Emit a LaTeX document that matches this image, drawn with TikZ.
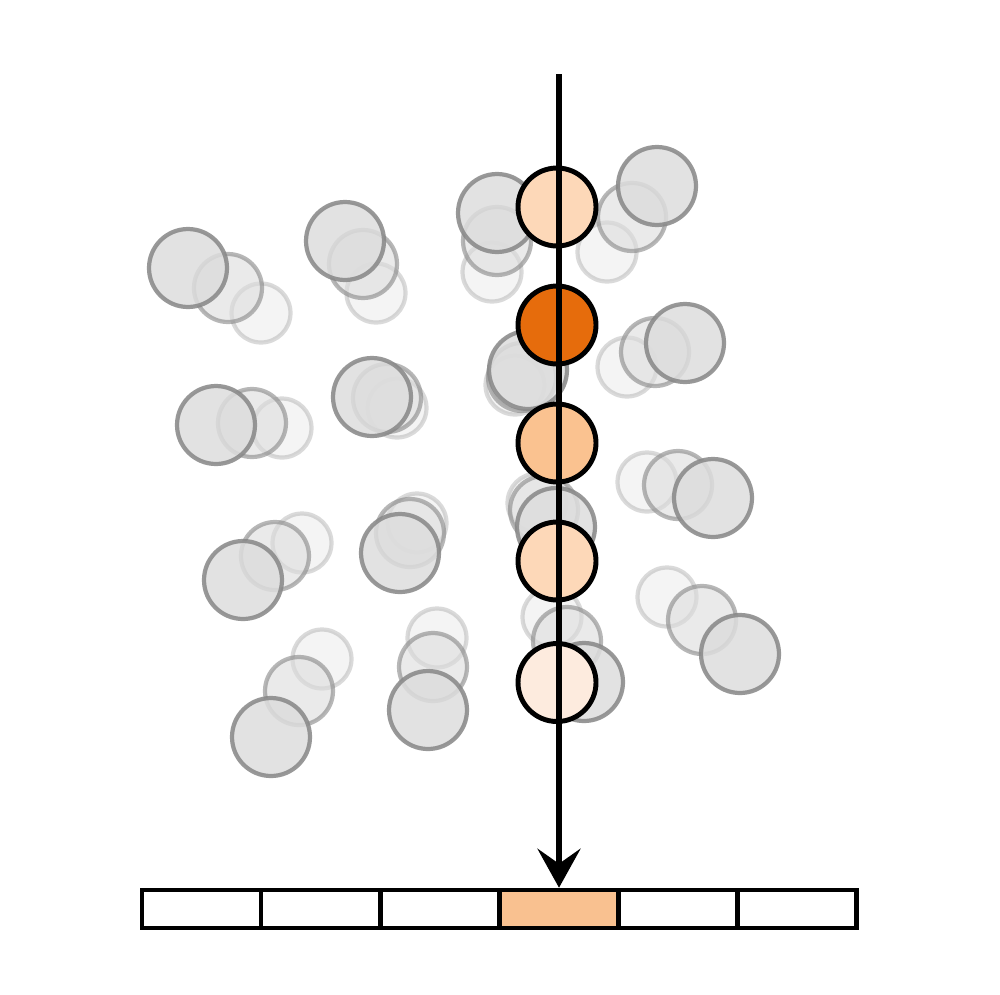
\documentclass[tikz,border=0pt]{standalone}
\usetikzlibrary{arrows.meta}
\definecolor{ballgray}{HTML}{878787}
\definecolor{ballfill}{HTML}{DDDDDD}
\definecolor{peachA}{HTML}{FDD8B8}
\definecolor{peachB}{HTML}{E66C0C}
\definecolor{peachC}{HTML}{FAC290}
\definecolor{peachD}{HTML}{FDEBDE}
\definecolor{cellfill}{HTML}{F9C190}
\begin{document}
\begin{tikzpicture}[x=0.02cm,y=-0.02cm,
  gball/.style={circle,draw=ballgray,fill=ballfill,line width=2.4pt,inner sep=0pt},
  frontball/.style={gball,minimum size=1.56cm,opacity=0.85},
  midball/.style={gball,minimum size=1.36cm,opacity=0.6},
  backball/.style={gball,minimum size=1.18cm,opacity=0.3},
  oball/.style={circle,draw=black,line width=2.8pt,minimum size=1.56cm,inner sep=0pt},
  cell/.style={rectangle,draw=black,line width=2.6pt,minimum width=2.3834cm,minimum height=0.76cm,inner sep=0pt},
  ray/.style={line width=3.3pt,-{Stealth[length=0.78cm,width=0.86cm,inset=0.3cm]}}]
\useasboundingbox[fill=white] (0,0) rectangle (1000,994);
% back layer
\foreach \x/\y [count=\i] in {261/313,376/293,492/272,607/252,282/428,397/408,515/385,627/367,302/543,417/523,537/503,647/482,322/659,437/638,552/617,667/597}
  \node[backball] (b\i) at (\x,\y) {};
% middle layer
\foreach \x/\y [count=\i] in {228/288,363/264,497/241,632/217,252/423,387/398,522/377,655/352,275/556,410/533,544/510,678/485,299/691,433/667,567/641,702/620}
  \node[midball] (m\i) at (\x,\y) {};
% front layer
\foreach \x/\y [count=\i] in {188/268,345/241,497/213,657/186,216/425,372/397,528/370,685/343,243/580,400/553,556/527,713/498,271/737,428/710,584/682,740/654}
  \node[frontball] (f\i) at (\x,\y) {};
% highlighted balls along the ray
\node[oball,fill=peachA] (o1) at (557,207) {};
\node[oball,fill=peachB] (o2) at (557,325) {};
\node[oball,fill=peachC] (o3) at (557,443) {};
\node[oball,fill=peachA] (o4) at (557,561) {};
\node[oball,fill=peachD] (o5) at (557,682.5) {};
% bar of cells
\node[cell,fill=cellfill] (c4) at (558.67,909) {};
\node[cell] (c1) at (201.58,909) {};
\node[cell] (c2) at (320.75,909) {};
\node[cell] (c3) at (439.92,909) {};
\node[cell] (c5) at (677.84,909) {};
\node[cell] (c6) at (797.01,909) {};
% ray
\coordinate (top) at (559,74);
\draw[ray] (top) -- (top |- c4.north);
\end{tikzpicture}
\end{document}
